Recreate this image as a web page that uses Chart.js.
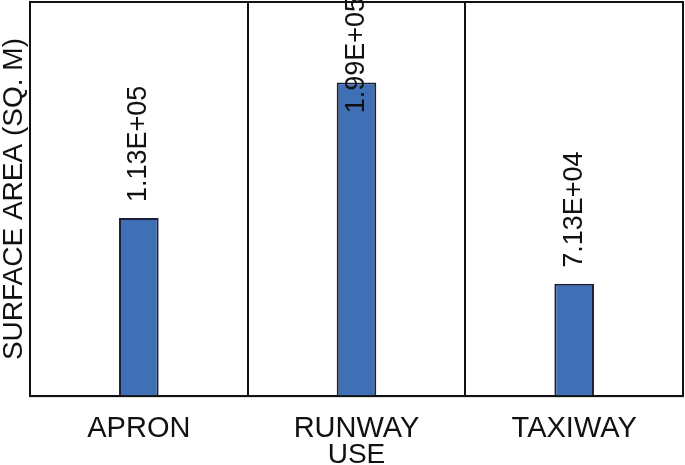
<!DOCTYPE html>
<html>
<head>
<meta charset="utf-8">
<script src="https://cdn.jsdelivr.net/npm/chart.js@4"></script>
<style>
  html, body { margin: 0; padding: 0; background: #fff; }
  #wrap { width: 685px; height: 465px; position: relative; }
</style>
</head>
<body>
<div id="wrap"><canvas id="c" width="685" height="465"></canvas></div>
<script>
const categories = ["APRON", "RUNWAY", "TAXIWAY"];
const areaValues = [113000, 199000, 71300];
const valueLabels = ["1.13E+05", "1.99E+05", "7.13E+04"];
const yAxisTitle = "SURFACE AREA (SQ. M)";
const xAxisTitle = "USE";

const FONT = "'Liberation Sans', Arial, sans-serif";
const INK = '#111';

const framePlugin = {
  id: 'frame',
  afterDraw(chart) {
    const {ctx, chartArea: a} = chart;
    ctx.save();
    ctx.strokeStyle = INK;
    ctx.lineWidth = 2;
    ctx.strokeRect(a.left, a.top, a.right - a.left, a.bottom - a.top);
    ctx.restore();
  }
};

const labelPlugin = {
  id: 'barLabels',
  afterDatasetsDraw(chart) {
    const {ctx} = chart;
    const meta = chart.getDatasetMeta(0);
    ctx.save();
    ctx.font = "27px " + FONT;
    ctx.fillStyle = INK;
    ctx.textBaseline = 'middle';
    ctx.textAlign = 'left';
    meta.data.forEach((bar, i) => {
      const txt = valueLabels[i];
      const w = ctx.measureText(txt).width;
      let start = bar.y - 16;
      if (start - w < -3) start = w - 3;
      ctx.save();
      ctx.translate(bar.x, start);
      ctx.rotate(-Math.PI / 2);
      ctx.fillText(txt, 0, 0);
      ctx.restore();
    });
    ctx.restore();
  }
};

new Chart(document.getElementById('c'), {
  type: 'bar',
  data: {
    labels: categories,
    datasets: [{
      data: areaValues,
      backgroundColor: '#3F6FB5',
      borderColor: '#18203A',
      borderWidth: 2,
      barPercentage: 0.182,
      categoryPercentage: 1.0
    }]
  },
  options: {
    responsive: false,
    animation: false,
    devicePixelRatio: 1,
    layout: { padding: { left: 0, right: 2, top: 2, bottom: 0 } },
    plugins: { legend: { display: false }, tooltip: { enabled: false } },
    scales: {
      x: {
        grid: { display: true, offset: true, color: INK, lineWidth: 2, drawTicks: false },
        border: { display: true, color: INK, width: 2 },
        ticks: { color: INK, padding: 18, font: { family: FONT, size: 29, lineHeight: 1 } },
        title: { display: true, text: xAxisTitle, color: INK, padding: { top: -16.3, bottom: 0 },
                 font: { family: FONT, size: 28, lineHeight: 0.72 } }
      },
      y: {
        min: 0, max: 250000,
        grid: { display: false, drawTicks: false },
        border: { display: true, color: INK, width: 2 },
        ticks: { display: false },
        title: { display: true, text: yAxisTitle, color: INK, padding: { top: 0, bottom: 2 },
                 font: { family: FONT, size: 28, lineHeight: 1 } }
      }
    }
  },
  plugins: [framePlugin, labelPlugin]
});
</script>
</body>
</html>
